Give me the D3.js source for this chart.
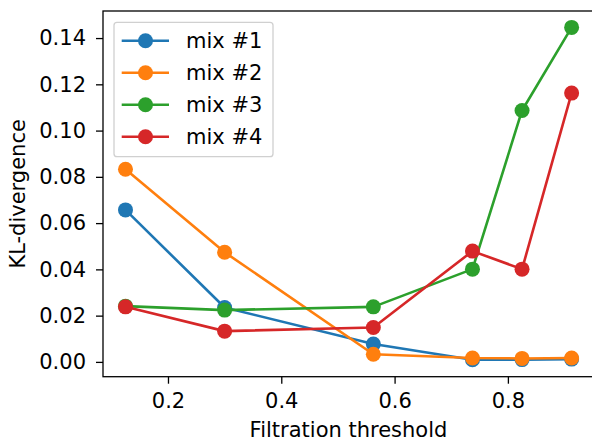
<!DOCTYPE html>
<meta charset="utf-8">
<head>
<style>
  body { margin: 0; background: #fff; }
  text { font-family: "DejaVu Sans", sans-serif; fill: #000; }
</style>
</head>
<body>
<svg id="chart"></svg>
<script src="https://d3js.org/d3.v7.min.js"></script>
<script>

// data
var thresholds = [0.125, 0.3, 0.5625, 0.7375, 0.825, 0.9125];
var mix1 = [0.0657, 0.0235, 0.0077, 0.0009, 0.0010, 0.0012];
var mix2 = [0.0833, 0.0474, 0.0033, 0.0017, 0.0015, 0.0017];
var mix3 = [0.0241, 0.0224, 0.0238, 0.0401, 0.1087, 0.1446];
var mix4 = [0.0238, 0.0133, 0.0149, 0.0479, 0.0401, 0.1162];
var seriesNames = ["mix #1", "mix #2", "mix #3", "mix #4"];
var xTicks = [0.2, 0.4, 0.6, 0.8];
var yTicks = [0.00, 0.02, 0.04, 0.06, 0.08, 0.10, 0.12, 0.14];

var colors = ["#1f77b4", "#ff7f0e", "#2ca02c", "#d62728"];
var allSeries = [mix1, mix2, mix3, mix4];

var W = 592, H = 445;
var pLeft = 103, pRight = 594, pTop = 11, pBottom = 376.7;
var fs = 21;

var svg = d3.select("#chart")
    .attr("width", W)
    .attr("height", H);

var x = d3.scaleLinear()
    .domain([0.0853, 0.952])
    .range([pLeft, pRight]);

var y = d3.scaleLinear()
    .domain([-0.0064, 0.1517])
    .range([pBottom, pTop]);

var xAxis = d3.axisBottom(x).tickValues(xTicks).tickFormat(d3.format(".1f"))
    .tickSizeInner(7).tickSizeOuter(0).tickPadding(9);
var yAxis = d3.axisLeft(y).tickValues(yTicks).tickFormat(d3.format(".2f"))
    .tickSizeInner(7).tickSizeOuter(0).tickPadding(10);

function styleAxis(g) {
  g.select(".domain").remove();
  g.selectAll("line").attr("stroke", "#000").attr("stroke-width", 1.3);
  g.selectAll("text").style("font-size", fs + "px").attr("fill", "#000")
    .attr("font-family", "DejaVu Sans");
}

svg.append("g")
    .attr("transform", "translate(0," + pBottom + ")")
    .call(xAxis)
    .call(styleAxis);

svg.append("g")
    .attr("transform", "translate(" + pLeft + ",0)")
    .call(yAxis)
    .call(styleAxis);

// spines
svg.append("rect")
    .attr("x", pLeft).attr("y", pTop)
    .attr("width", pRight - pLeft).attr("height", pBottom - pTop)
    .attr("fill", "none").attr("stroke", "#000").attr("stroke-width", 1.3);

var line = d3.line()
    .x(function(d, i) { return x(thresholds[i]); })
    .y(function(d) { return y(d); });

allSeries.forEach(function(s, k) {
  var g = svg.append("g");
  g.append("path")
      .datum(s)
      .attr("d", line)
      .attr("fill", "none")
      .attr("stroke", colors[k])
      .attr("stroke-width", 2.6)
      .attr("stroke-linejoin", "round");
  g.selectAll("circle")
      .data(s)
    .enter().append("circle")
      .attr("cx", function(d, i) { return x(thresholds[i]); })
      .attr("cy", function(d) { return y(d); })
      .attr("r", 7.5)
      .attr("fill", colors[k]);
});

// axis labels
svg.append("text")
    .attr("x", (pLeft + pRight) / 2)
    .attr("y", 437)
    .attr("text-anchor", "middle")
    .style("font-size", fs + "px")
    .text("Filtration threshold");

svg.append("text")
    .attr("transform", "translate(25," + ((pTop + pBottom) / 2) + ") rotate(-90)")
    .attr("text-anchor", "middle")
    .style("font-size", fs + "px")
    .text("KL-divergence");

// legend
var legend = svg.append("g");
legend.append("rect")
    .attr("x", 114).attr("y", 22.3)
    .attr("width", 159).attr("height", 134.4)
    .attr("rx", 3)
    .attr("fill", "#fff").attr("fill-opacity", 0.8)
    .attr("stroke", "#d0d0d0").attr("stroke-width", 1.3);

seriesNames.forEach(function(name, k) {
  var ly = 40.7 + k * 32;
  legend.append("line")
      .attr("x1", 121.7).attr("x2", 169)
      .attr("y1", ly).attr("y2", ly)
      .attr("stroke", colors[k]).attr("stroke-width", 2.6);
  legend.append("circle")
      .attr("cx", 145.5).attr("cy", ly).attr("r", 7.5)
      .attr("fill", colors[k]);
  legend.append("text")
      .attr("x", 186).attr("y", ly)
      .attr("dy", "0.35em")
      .style("font-size", fs + "px")
      .text(name);
});

</script>
</body>
